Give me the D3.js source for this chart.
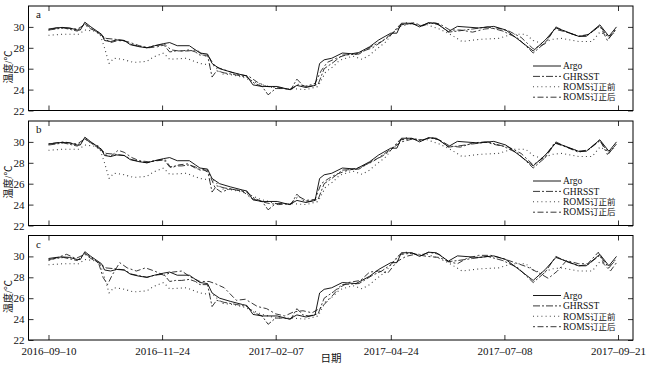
<!DOCTYPE html>
<html><head><meta charset="utf-8">
<script src="https://cdn.jsdelivr.net/npm/d3@7"></script>
<style>
body{margin:0;background:#fff}
svg{display:block}
text{font-family:"Liberation Serif","Times New Roman","Noto Sans CJK SC",serif;fill:#111}
</style></head><body>
<svg id="chart" width="650" height="367"></svg>
<script>
// ---------- data ----------
const baseDate = "2016-09-10";
const tickLabels = ["2016-09-10","2016-11-24","2017-02-07","2017-04-24","2017-07-08","2017-09-21"];
const yTicks = [22,24,26,28,30];
const panelLabels = ["a","b","c"];
const seriesNames = ["Argo","GHRSST","ROMS订正前","ROMS订正后"];

// days since baseDate
const argoDays = [0,5,9,14,19,21,24,28,32,35,37,41,45,50,54,60,65,70,76,80,85,93,97,100,105,108,113,120,128,131,135,141,151,159,164,170,176,179,182,187,194,203,212,218,226,230,233,240,245,251,256,264,270,284,294,302,320,328,335,341,350,355,364,370,375];
const argoTemp = [29.8,29.9,29.95,29.9,29.7,29.7,30.45,30.0,29.6,29.3,28.7,28.6,28.75,28.7,28.3,28.1,28.0,28.2,28.4,28.5,28.2,28.2,27.8,27.5,27.4,26.5,26.0,25.7,25.4,25.3,24.45,24.3,24.3,24.0,24.4,24.2,24.4,26.5,26.85,27.0,27.5,27.4,28.1,28.75,29.4,29.4,30.35,30.35,30.0,30.4,30.35,29.55,30.05,29.9,30.05,29.7,27.7,28.75,29.9,29.6,29.1,29.1,30.2,29.1,30.0];

const ghrDays = [0,5,10,19,24,28,32,35,38,45,50,55,65,70,76,80,84,88,93,97,100,105,108,111,116,124,131,136,141,145,150,155,160,164,168,172,178,182,188,194,205,214,220,226,232,240,246,251,258,264,270,280,290,300,310,320,328,335,342,350,356,364,370,375];
const ghrTemp = [29.7,29.8,29.9,29.6,30.3,29.9,29.5,29.2,28.9,28.8,28.7,28.3,28.0,28.2,28.3,27.6,27.7,27.7,27.8,27.6,27.3,27.3,25.2,25.8,25.6,25.4,25.2,24.6,24.3,23.5,24.1,24.1,24.0,25.0,24.4,24.3,24.5,26.0,26.6,27.3,27.4,28.2,28.6,29.2,30.2,30.3,30.1,30.4,30.2,29.5,29.6,29.8,30.0,29.6,28.9,27.5,28.5,30.0,29.5,29.1,29.2,30.1,28.9,29.8];

const preDays = [0,10,20,24,30,34,37,40,43,49,56,65,69,76,80,91,100,109,115,122,130,140,150,160,170,178,183,188,192,201,207,212,216,223,227,231,236,243,250,258,264,273,284,297,306,315,320,326,332,339,350,359,364,370,375];
const preTemp = [29.2,29.3,29.3,29.7,29.6,29.3,28.0,26.5,27.0,26.9,26.6,26.7,27.1,27.5,26.9,27.0,26.5,26.3,25.5,25.4,25.1,24.5,24.1,24.1,24.0,24.3,25.7,26.2,26.8,27.2,26.9,27.3,27.8,28.6,29.4,30.0,30.4,30.2,30.2,29.8,29.4,28.6,28.8,28.9,29.3,29.3,28.7,28.4,28.8,28.9,28.6,28.6,29.5,29.1,29.6];

const postDaysA = [0,5,10,19,24,28,33,37,41,46,52,60,66,72,77,81,86,92,98,102,106,110,116,124,132,138,144,152,160,165,170,176,180,184,190,196,206,214,220,226,233,241,247,253,258,265,272,280,288,296,304,312,320,328,334,342,350,357,364,369,375];
const postTempA = [29.7,29.9,29.9,29.8,30.2,29.8,29.5,28.9,28.5,28.7,28.6,28.2,28.0,28.1,28.3,27.8,27.7,27.7,27.8,27.3,27.1,26.2,25.9,25.5,25.3,24.7,24.3,24.2,24.0,24.5,24.3,24.6,25.8,26.6,27.0,27.3,27.6,28.0,28.6,29.3,30.1,30.4,30.1,30.4,30.3,29.7,29.7,29.5,29.8,29.9,29.6,29.0,27.9,28.4,29.8,29.5,29.1,29.3,30.1,28.7,29.9];

const postDaysB = [0,5,10,19,24,28,33,37,41,46,50,55,60,66,72,77,81,86,92,98,102,106,110,114,120,128,134,140,146,152,160,165,170,176,180,185,190,196,206,214,220,226,233,241,247,253,258,265,272,280,288,296,304,312,320,328,334,342,350,357,364,369,375];
const postTempB = [29.8,29.9,30.0,29.8,30.3,29.9,29.6,28.8,28.6,29.2,29.0,28.5,28.2,28.1,28.2,28.3,27.5,27.8,27.9,27.4,27.4,27.0,25.6,25.2,25.5,25.3,24.6,24.3,24.1,24.0,24.1,24.8,24.4,24.5,26.0,26.5,26.9,27.2,27.6,28.1,28.7,29.3,30.0,30.3,30.2,30.4,30.2,29.6,29.5,29.9,30.0,29.7,29.5,28.9,27.8,28.6,29.9,29.5,29.0,29.3,30.2,28.8,29.8];

const postDaysC = [0,6,12,18,24,28,33,36,39,42,47,52,58,64,70,76,82,88,94,100,106,110,116,124,130,138,144,150,156,162,168,174,180,186,192,198,206,212,218,224,230,236,242,250,258,264,270,276,284,292,300,308,316,324,330,336,342,350,356,363,367,371,375];
const postTempC = [29.6,29.9,30.2,29.8,30.2,29.8,29.4,28.0,27.3,28.2,29.4,28.9,28.6,28.9,28.6,28.2,28.5,28.6,28.0,27.6,27.6,27.4,27.0,25.8,25.9,25.2,25.0,24.5,24.3,24.7,24.8,24.6,25.1,26.0,27.0,27.5,27.7,28.5,28.6,28.4,29.5,30.0,30.2,30.0,29.9,29.5,29.3,29.8,30.1,30.1,29.8,29.4,29.0,28.4,27.9,28.6,29.6,29.3,29.3,30.4,29.2,28.6,29.4];

// ---------- layout ----------
const svg = d3.select("#chart");
const L = 28.5, R = 633;
const panelTops = [6, 121, 235.5];
const panelH = 104.5;
const base = Date.UTC(2016,8,10);
const toDate = d => new Date(base + d*864e5);
const parse = s => { const [y,m,d] = s.split("-").map(Number); return new Date(Date.UTC(y,m-1,d)); };

const x = d3.scaleUtc().domain([toDate(-13.2), toDate(385.9)]).range([L, R]);

const styles = [
  {stroke:"#000", width:0.9, dash:null},
  {stroke:"#222", width:0.9, dash:"7,2,2,2"},
  {stroke:"#444", width:1.1, dash:"1,3.2"},
  {stroke:"#222", width:0.9, dash:"2,2.5,6,2.5"}
];

const postSets = [[postDaysA,postTempA],[postDaysB,postTempB],[postDaysC,postTempC]];

panelTops.forEach((top, pi) => {
  const y = d3.scaleLinear().domain([22,32]).range([top+panelH, top]);
  const g = svg.append("g");

  const xt = tickLabels.map(parse);
  g.append("g").attr("transform",`translate(0,${top+panelH})`)
    .call(d3.axisBottom(x).tickValues(xt).tickSize(-5).tickFormat(pi===2 ? (d,i)=>tickLabels[i].replace(/-/g,"–") : "").tickPadding(7))
    .call(s=>{s.select(".domain").remove(); s.selectAll("line").attr("stroke","#333");
      s.selectAll("text").attr("font-size",11).style("font-family",'"Liberation Serif",serif');});
  g.append("g").attr("transform",`translate(0,${top})`)
    .call(d3.axisTop(x).tickValues(xt).tickSize(-5).tickFormat(""))
    .call(s=>{s.select(".domain").remove(); s.selectAll("line").attr("stroke","#333");});
  g.append("g").attr("transform",`translate(${L},0)`)
    .call(d3.axisLeft(y).tickValues(yTicks).tickSize(-5).tickPadding(4).tickFormat(d3.format("d")))
    .call(s=>{s.select(".domain").remove(); s.selectAll("line").attr("stroke","#333");
      s.selectAll("text").attr("font-size",11).style("font-family",'"Liberation Serif",serif');});
  g.append("g").attr("transform",`translate(${R},0)`)
    .call(d3.axisRight(y).tickValues(yTicks).tickSize(-5).tickFormat(""))
    .call(s=>{s.select(".domain").remove(); s.selectAll("line").attr("stroke","#333");});

  g.append("rect").attr("x",L).attr("y",top).attr("width",R-L).attr("height",panelH)
    .attr("fill","none").attr("stroke","#000").attr("stroke-width",1);

  const clipId = "clip"+pi;
  svg.append("clipPath").attr("id",clipId).append("rect")
    .attr("x",L).attr("y",top).attr("width",R-L).attr("height",panelH);

  const sets = [[argoDays,argoTemp],[ghrDays,ghrTemp],[preDays,preTemp],postSets[pi]];
  const line = d3.line().x(d=>x(toDate(d[0]))).y(d=>y(d[1]));
  const lg = g.append("g").attr("clip-path",`url(#${clipId})`);
  [2,1,3,0].forEach(si => {
    const [ds, vs] = sets[si];
    const pts = ds.map((d,i)=>[d,vs[i]]);
    const st = styles[si];
    lg.append("path").datum(pts).attr("d",line).attr("fill","none")
      .attr("stroke",st.stroke).attr("stroke-width",st.width)
      .attr("stroke-dasharray",st.dash).attr("stroke-linejoin","round");
  });

  g.append("text").attr("x",36).attr("y",top+12).attr("font-size",11).text(panelLabels[pi]);

  g.append("text").attr("transform",`translate(12,${top+61}) rotate(-90)`)
    .attr("text-anchor","middle").attr("font-size",10).text("温度/℃");

  // legend
  seriesNames.forEach((nm, si) => {
    const ly = top + 60 + si*10.4;
    const st = styles[si];
    g.append("line").attr("x1",533).attr("x2",561).attr("y1",ly).attr("y2",ly)
      .attr("stroke",st.stroke).attr("stroke-width",st.width).attr("stroke-dasharray",st.dash);
    const t = g.append("text").attr("x",563).attr("y",ly+3.2).attr("font-size",9.5);
    const m = nm.match(/^([A-Za-z]+)(.*)$/);
    t.append("tspan").text(m[1]);
    if (m[2]) t.append("tspan").attr("font-size",8.5).text(m[2]);
  });
});

svg.append("text").attr("x",331).attr("y",362).attr("text-anchor","middle").attr("font-size",10.5).text("日期");
</script></body></html>
